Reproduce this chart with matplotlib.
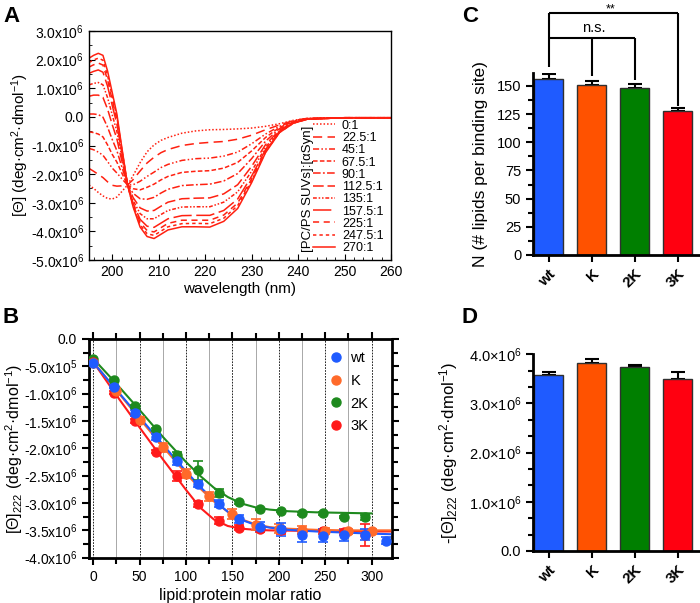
import matplotlib
matplotlib.use("Agg")
import matplotlib.pyplot as plt
import numpy as np
from matplotlib.ticker import MultipleLocator, FuncFormatter, AutoMinorLocator

plt.rcParams['font.family'] = ['Liberation Sans', 'DejaVu Sans']
plt.rcParams['mathtext.fontset'] = 'custom'
plt.rcParams['mathtext.rm'] = 'Liberation Sans'
plt.rcParams['mathtext.it'] = 'Liberation Sans:italic'
plt.rcParams['mathtext.bf'] = 'Liberation Sans:bold'

# ---------------- panel A: CD spectra (values in 1e6 deg cm2 dmol-1) ----------------
wavelength = [195, 196, 197, 198, 199, 200, 201, 202, 203.3, 204.5, 206, 207.5, 209, 210.5,
              212, 215, 218, 221, 224, 227, 230, 233, 236, 239, 242, 250, 260]
cd_0 = [-2.38, -2.50, -2.64, -2.76, -2.85, -2.87, -2.80, -2.62, -2.38, -2.05, -1.60, -1.22, -0.98, -0.82,
        -0.72, -0.57, -0.49, -0.45, -0.44, -0.42, -0.39, -0.33, -0.24, -0.12, -0.05, -0.03, -0.03]
cd_22 = [-1.80, -1.90, -2.01, -2.12, -2.27, -2.39, -2.42, -2.41, -2.38, -2.19, -1.89, -1.61, -1.41, -1.25,
         -1.14, -1.00, -0.93, -0.89, -0.86, -0.78, -0.64, -0.45, -0.28, -0.13, -0.05, -0.03, -0.03]
cd_45 = [-1.10, -1.15, -1.23, -1.34, -1.56, -1.79, -1.96, -2.15, -2.38, -2.37, -2.25, -2.08, -1.93, -1.77,
         -1.66, -1.52, -1.46, -1.44, -1.37, -1.23, -0.94, -0.60, -0.33, -0.15, -0.06, -0.03, -0.03]
cd_67 = [-0.52, -0.55, -0.60, -0.70, -0.98, -1.31, -1.58, -1.94, -2.38, -2.51, -2.55, -2.46, -2.35, -2.20,
         -2.08, -1.94, -1.90, -1.88, -1.79, -1.59, -1.19, -0.72, -0.37, -0.16, -0.06, -0.03, -0.03]
cd_90 = [0.10, 0.10, 0.08, -0.01, -0.36, -0.79, -1.18, -1.71, -2.38, -2.67, -2.86, -2.88, -2.81, -2.66,
         -2.53, -2.40, -2.37, -2.35, -2.24, -1.98, -1.46, -0.85, -0.41, -0.18, -0.07, -0.03, -0.03]
cd_112 = [0.72, 0.76, 0.76, 0.68, 0.27, -0.27, -0.77, -1.49, -2.38, -2.82, -3.18, -3.29, -3.27, -3.12,
          -2.98, -2.86, -2.84, -2.83, -2.69, -2.37, -1.73, -0.97, -0.46, -0.19, -0.07, -0.03, -0.03]
cd_135 = [1.12, 1.17, 1.20, 1.12, 0.67, 0.07, -0.51, -1.34, -2.38, -2.92, -3.38, -3.56, -3.56, -3.41,
          -3.27, -3.15, -3.14, -3.14, -2.98, -2.62, -1.90, -1.06, -0.49, -0.20, -0.07, -0.03, -0.03]
cd_157 = [1.52, 1.59, 1.64, 1.56, 1.07, 0.40, -0.25, -1.19, -2.38, -3.02, -3.58, -3.82, -3.86, -3.71,
          -3.56, -3.45, -3.44, -3.44, -3.27, -2.87, -2.07, -1.14, -0.51, -0.21, -0.08, -0.03, -0.03]
cd_225 = [1.74, 1.82, 1.88, 1.81, 1.29, 0.59, -0.10, -1.11, -2.38, -3.07, -3.69, -3.97, -4.02, -3.87,
          -3.72, -3.61, -3.61, -3.61, -3.43, -3.01, -2.17, -1.19, -0.53, -0.21, -0.08, -0.03, -0.03]
cd_247 = [1.90, 1.99, 2.05, 1.98, 1.44, 0.72, 0.00, -1.06, -2.38, -3.11, -3.77, -4.08, -4.14, -3.99,
          -3.84, -3.73, -3.72, -3.73, -3.54, -3.10, -2.23, -1.22, -0.54, -0.22, -0.08, -0.03, -0.03]
cd_270 = [2.05, 2.15, 2.22, 2.15, 1.60, 0.85, 0.10, -1.00, -2.38, -3.15, -3.85, -4.18, -4.25, -4.10,
          -3.95, -3.84, -3.84, -3.85, -3.65, -3.20, -2.30, -1.25, -0.55, -0.22, -0.08, -0.03, -0.03]
cd_labels = ['0:1', '22.5:1', '45:1', '67.5:1', '90:1', '112.5:1', '135:1', '157.5:1',
             '225:1', '247.5:1', '270:1']

# ---------------- panel B: titration at 222 nm (1e6 units) ----------------
wt_x = [0, 22.5, 45, 67.5, 90, 112.5, 135, 157.5, 180, 202.5, 225, 247.5, 270, 292.5, 315]
wt_y = [-0.44, -0.87, -1.35, -1.79, -2.24, -2.65, -3.01, -3.29, -3.43, -3.48, -3.59, -3.60, -3.59, -3.58, -3.69]
wt_e = [0.02, 0.03, 0.05, 0.05, 0.07, 0.06, 0.06, 0.07, 0.08, 0.12, 0.12, 0.12, 0.10, 0.10, 0.06]
k_x = [0, 25, 50, 75, 100, 125, 150, 175, 200, 225, 250, 275, 300]
k_y = [-0.43, -0.95, -1.48, -1.98, -2.46, -2.88, -3.20, -3.40, -3.47, -3.49, -3.51, -3.52, -3.52]
k_e = [0.02, 0.06, 0.05, 0.08, 0.09, 0.08, 0.09, 0.10, 0.08, 0.07, 0.06, 0.05, 0.05]
k2_x = [0, 22.5, 45, 67.5, 90, 112.5, 135, 157.5, 180, 202.5, 225, 247.5, 270, 292.5]
k2_y = [-0.37, -0.75, -1.23, -1.65, -2.12, -2.40, -2.82, -2.99, -3.11, -3.15, -3.19, -3.19, -3.25, -3.26]
k2_e = [0.02, 0.02, 0.03, 0.03, 0.05, 0.17, 0.07, 0.03, 0.02, 0.02, 0.02, 0.02, 0.02, 0.05]
k3_x = [0, 22.5, 45, 67.5, 90, 112.5, 135, 157.5, 180, 202.5, 225, 247.5, 270, 292.5]
k3_y = [-0.42, -0.98, -1.50, -2.06, -2.51, -3.02, -3.32, -3.45, -3.48, -3.50, -3.52, -3.52, -3.53, -3.58]
k3_e = [0.02, 0.03, 0.04, 0.03, 0.09, 0.05, 0.06, 0.04, 0.05, 0.06, 0.04, 0.04, 0.05, 0.20]

# fitted curves
fit_x = [0, 25, 50, 75, 100, 115, 130, 145, 160, 175, 190, 210, 240, 270, 300, 320]
wt_fit = [-0.43, -0.93, -1.43, -1.93, -2.42, -2.70, -2.95, -3.16, -3.31, -3.40, -3.45, -3.49, -3.52, -3.54, -3.56, -3.57]
k_fit = [-0.42, -0.94, -1.46, -1.97, -2.46, -2.73, -2.97, -3.16, -3.30, -3.39, -3.44, -3.47, -3.49, -3.50, -3.50, -3.50]
k2_fit = [-0.36, -0.82, -1.30, -1.79, -2.25, -2.50, -2.72, -2.89, -3.01, -3.08, -3.12, -3.15, -3.17, -3.18, -3.19, np.nan]
k3_fit = [-0.42, -1.03, -1.62, -2.20, -2.76, -3.08, -3.30, -3.42, -3.47, -3.49, -3.50, -3.505, -3.51, -3.515, -3.52, -3.52]

# ---------------- panels C, D ----------------
variants = ['wt', 'K', '2K', '3K']
colors = ['#1f5bff', '#ff5200', '#007f00', '#ff0010']
b_colors = ['#1f5bff', '#ff6a2a', '#1e8a1e', '#ff1a1a']
n_sites = [156.0, 150.5, 148.0, 127.5]
n_err = [4.5, 4.0, 3.5, 3.0]
theta_max = [3.57, 3.82, 3.74, 3.49]
theta_err = [0.08, 0.08, 0.05, 0.15]
ns_height = 192.3
ss_height = 214.5
stem_bottom = [167.1, 158.9, 155.3, 132.3]

M = 1e6


def sci(v, pos, sep='x'):
    if abs(v) < 1e-3:
        return '0.0'
    e = int(np.floor(np.log10(abs(v)) + 1e-9))
    m = v / 10 ** e
    return f'{m:.1f}{sep}10$^{{{e}}}$'


fig = plt.figure(figsize=(7, 6.03), dpi=100)
W, H = 700, 603


def rect(l, t, r, b):
    return [l / W, 1 - b / H, (r - l) / W, (b - t) / H]


# ======== A ========
axA = fig.add_axes(rect(89, 31, 391, 260))
red = '#ff2010'
styles = [(0, (1, 1.3)), (0, (6, 3.5)), (0, (4, 1.5, 1, 1.5, 1, 1.5)), (0, (3, 1.5)),
          (0, (5, 1.5, 1.2, 1.5)), (0, (7, 2.5)), (0, (2.5, 1.2, 1, 1.2, 1, 1.2)),
          (0, (12, 3)), (0, (4, 3)), (0, (2.2, 2)), '-']
curves = [cd_0, cd_22, cd_45, cd_67, cd_90, cd_112, cd_135, cd_157, cd_225, cd_247, cd_270]
wl = np.array(wavelength)
for c, ls, lab in zip(curves, styles, cd_labels):
    axA.plot(wl, np.array(c) * M, color=red, ls=ls, lw=1.1, label=lab)
axA.set_xlim(195, 260)
axA.set_ylim(-5 * M, 3 * M)
axA.xaxis.set_major_locator(MultipleLocator(10))
axA.xaxis.set_minor_locator(MultipleLocator(2))
axA.yaxis.set_major_locator(MultipleLocator(1 * M))
axA.yaxis.set_minor_locator(MultipleLocator(0.5 * M))
axA.yaxis.set_major_formatter(FuncFormatter(sci))
axA.tick_params(which='both', direction='in', labelsize=10)
axA.tick_params(which='major', length=4)
axA.tick_params(which='minor', length=2.5)
for s in axA.spines.values():
    s.set_linewidth(1.0)
axA.set_xlabel('wavelength (nm)', fontsize=11, labelpad=2)
axA.set_ylabel('[Θ] (deg·cm$^{2}$·dmol$^{-1}$)', fontsize=11, labelpad=0)
leg = axA.legend(loc='lower right', bbox_to_anchor=(0.975, 0.025), frameon=False, fontsize=9,
                 labelspacing=0.02, handlelength=1.75, handletextpad=0.55, borderpad=0,
                 borderaxespad=0)
axA.text(0.725, 0.31, '[PC/PS SUVs]:[αSyn]', transform=axA.transAxes, rotation=90,
         ha='center', va='center', fontsize=9.5)

# ======== B ========
axB = fig.add_axes(rect(89, 339, 392, 557.7))
axB.set_xlim(-4.6, 322)
axB.set_ylim(-4 * M, 0)
series = [(k2_x, k2_y, k2_e, k2_fit, 2), (k3_x, k3_y, k3_e, k3_fit, 3),
          (k_x, k_y, k_e, k_fit, 1), (wt_x, wt_y, wt_e, wt_fit, 0)]
for xs, ys, es, fit, i in series:
    axB.plot(fit_x, np.array(fit) * M, color=b_colors[i], lw=1.5, zorder=3)
    axB.errorbar(xs, np.array(ys) * M, yerr=np.array(es) * M, fmt='o', ms=6.5,
                 color=b_colors[i], ecolor=b_colors[i], elinewidth=1.2, capsize=3.5,
                 capthick=1.2, zorder=4)
handles = []
for i in range(4):
    h, = axB.plot([], [], 'o', ms=6.5, color=b_colors[i], label=variants[i])
    handles.append(h)
axB.legend(handles=handles, loc='upper left', bbox_to_anchor=(0.795, 0.945), frameon=False,
           fontsize=10.5, handlelength=0.8, handletextpad=0.6, labelspacing=0.6,
           borderpad=0, borderaxespad=0)
axB.xaxis.set_major_locator(MultipleLocator(50))
axB.xaxis.set_minor_locator(MultipleLocator(25))
axB.yaxis.set_major_locator(MultipleLocator(0.5 * M))
axB.yaxis.set_minor_locator(MultipleLocator(0.25 * M))
axB.yaxis.set_major_formatter(FuncFormatter(sci))
axB.grid(which='major', axis='x', color='k', ls=(0, (2, 1.5)), lw=0.6, zorder=0)
axB.grid(which='minor', axis='x', color='#9a9a9a', ls='-', lw=0.6, zorder=0)
axB.tick_params(which='both', direction='out', top=True, right=True, labelsize=10,
                width=1.5)
axB.tick_params(which='major', length=5)
axB.tick_params(which='minor', length=4)
for s in axB.spines.values():
    s.set_linewidth(2)
axB.set_xlabel('lipid:protein molar ratio', fontsize=11.5, labelpad=3)
axB.set_ylabel('[Θ]$_{222}$ (deg·cm$^{2}$·dmol$^{-1}$)', fontsize=11.5, labelpad=-1)

# ======== C ========
xpos = np.arange(len(variants))
axC = fig.add_axes(rect(533, 73, 699, 255))
axC.bar(xpos, n_sites, width=0.67, color=colors, edgecolor='#303030', lw=1, zorder=2)
axC.errorbar(xpos, n_sites, yerr=[np.zeros(4), n_err], fmt='none', ecolor='k',
             elinewidth=1.5, capsize=5, capthick=1.5, zorder=1)
axC.set_xlim(-0.36, 3.49)
axC.set_ylim(0, 161.5)
axC.yaxis.set_major_locator(MultipleLocator(25))
axC.yaxis.set_minor_locator(AutoMinorLocator(2))
axC.set_ylabel('N (# lipids per binding site)', fontsize=12.5, labelpad=6)
# significance brackets
kw = dict(color='k', lw=1.5, clip_on=False, solid_capstyle='butt')
axC.plot([xpos[0], xpos[3]], [ss_height, ss_height], **kw)
axC.plot([xpos[0], xpos[0]], [ss_height, stem_bottom[0]], **kw)
axC.plot([xpos[3], xpos[3]], [ss_height, stem_bottom[3]], **kw)
axC.plot([xpos[0], xpos[2]], [ns_height, ns_height], **kw)
axC.plot([xpos[1], xpos[1]], [ns_height, stem_bottom[1]], **kw)
axC.plot([xpos[2], xpos[2]], [ns_height, stem_bottom[2]], **kw)
axC.text(1.05, ns_height + 3, 'n.s.', ha='center', va='bottom', fontsize=10.5, clip_on=False)
axC.text(1.45, ss_height + 0.8, '**', ha='center', va='baseline', fontsize=9, clip_on=False)

# ======== D ========
axD = fig.add_axes(rect(533, 354.3, 699, 551))
axD.bar(xpos, np.array(theta_max) * M, width=0.67, color=colors, edgecolor='#303030', lw=1,
        zorder=2)
axD.errorbar(xpos, np.array(theta_max) * M, yerr=[np.zeros(4), np.array(theta_err) * M],
             fmt='none', ecolor='k', elinewidth=1.5, capsize=5, capthick=1.5, zorder=1)
axD.set_xlim(-0.36, 3.49)
axD.set_ylim(0, 4 * M)
axD.yaxis.set_major_locator(MultipleLocator(1 * M))
axD.yaxis.set_minor_locator(AutoMinorLocator(3))
axD.yaxis.set_major_formatter(FuncFormatter(lambda v, p: sci(v, p, '×')))
axD.set_ylabel('-[Θ]$_{222}$ (deg·cm$^{2}$·dmol$^{-1}$)', fontsize=12, labelpad=6)

for ax in (axC, axD):
    for side in ('top', 'right'):
        ax.spines[side].set_visible(False)
    for side in ('left', 'bottom'):
        ax.spines[side].set_linewidth(2)
    ax.set_xticks(xpos)
    ax.set_xticklabels(variants, rotation=45, ha='right', rotation_mode='anchor',
                       fontweight='bold', fontsize=11)
    ax.tick_params(which='both', direction='out', width=1.5, labelsize=10.5)
    ax.tick_params(which='major', length=5)
    ax.tick_params(which='minor', length=3.5)
    ax.tick_params(axis='x', labelsize=11)

# panel letters
for lab, (px, py) in zip('ABCD', [(12, 17), (11, 317), (470, 17), (470, 317)]):
    fig.text(px / W, 1 - py / H, lab, fontsize=16, fontweight='bold', ha='center', va='center')

fig.savefig('out.png', dpi=100)
